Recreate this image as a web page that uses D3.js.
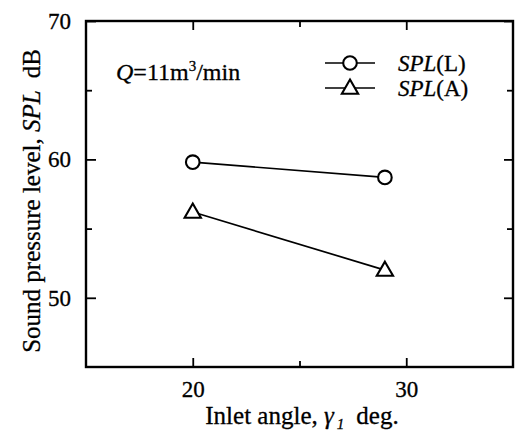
<!DOCTYPE html>
<html>
<head>
<meta charset="utf-8">
<script src="https://cdn.jsdelivr.net/npm/d3@7"></script>
<style>
  html, body { margin: 0; padding: 0; background: #fff; }
  svg { display: block; }
</style>
</head>
<body>
<svg id="chart" width="518" height="437"></svg>
<script>
// Inlet angle (deg.)
const inletAngles = [20, 29];
// Sound pressure level, dB
const splL = [59.8, 58.7];
const splA = [56.2, 52.0];

const xMajorTicks = [20, 30];
const xMinorTicks = [25];
const yMajorTicks = [50, 60, 70];
const yMinorTicks = [55, 65];

const SERIF = "Liberation Serif";
const plot = { left: 86, top: 21, right: 513, bottom: 367 };

const svg = d3.select("#chart");

const x = d3.scaleLinear().domain([15, 35]).range([plot.left, plot.right]);
const y = d3.scaleLinear().domain([45, 70]).range([plot.bottom, plot.top]);

// Bottom axis with labels
svg.append("g").attr("transform", `translate(0,${plot.bottom})`)
  .call(d3.axisBottom(x).tickValues(xMajorTicks).tickSize(-9).tickPadding(14).tickFormat(d3.format("d")));
svg.append("g").attr("transform", `translate(0,${plot.bottom})`)
  .call(d3.axisBottom(x).tickValues(xMinorTicks).tickSize(-6).tickFormat(""));
// Top axis (ticks only)
svg.append("g").attr("transform", `translate(0,${plot.top})`)
  .call(d3.axisTop(x).tickValues(xMajorTicks).tickSize(-9).tickFormat(""));
svg.append("g").attr("transform", `translate(0,${plot.top})`)
  .call(d3.axisTop(x).tickValues(xMinorTicks).tickSize(-6).tickFormat(""));
// Left axis with labels
svg.append("g").attr("transform", `translate(${plot.left},0)`)
  .call(d3.axisLeft(y).tickValues(yMajorTicks).tickSize(-10).tickPadding(15).tickFormat(d3.format("d")));
svg.append("g").attr("transform", `translate(${plot.left},0)`)
  .call(d3.axisLeft(y).tickValues(yMinorTicks).tickSize(-6).tickFormat(""));
// Right axis (ticks only)
svg.append("g").attr("transform", `translate(${plot.right},0)`)
  .call(d3.axisRight(y).tickValues(yMajorTicks).tickSize(-9).tickFormat(""));
svg.append("g").attr("transform", `translate(${plot.right},0)`)
  .call(d3.axisRight(y).tickValues(yMinorTicks).tickSize(-6).tickFormat(""));

svg.selectAll(".domain").remove();
svg.selectAll(".tick line").attr("stroke", "#000").attr("stroke-width", 1.8);
svg.selectAll(".tick text").attr("fill", "#000")
  .attr("font-family", SERIF).attr("font-size", 23)
  .attr("stroke", "#000").attr("stroke-width", 0.3);

// Plot frame
svg.append("rect")
  .attr("x", plot.left).attr("y", plot.top)
  .attr("width", plot.right - plot.left).attr("height", plot.bottom - plot.top)
  .attr("fill", "none").attr("stroke", "#000").attr("stroke-width", 2.4);

// Series
const series = [
  { name: "L", values: splL, marker: "circle" },
  { name: "A", values: splA, marker: "triangle" }
];

const line = d3.line().x(d => x(d[0])).y(d => y(d[1]));
const triSym = d3.symbol().type(d3.symbolTriangle).size(115);

function drawMarker(g, type, cx, cy) {
  if (type === "circle") {
    g.append("circle").attr("cx", cx).attr("cy", cy).attr("r", 6.8)
      .attr("fill", "#fff").attr("stroke", "#000").attr("stroke-width", 2.1);
  } else {
    g.append("path").attr("d", triSym()).attr("transform", `translate(${cx},${cy + 1})`)
      .attr("fill", "#fff").attr("stroke", "#000").attr("stroke-width", 2.1);
  }
}

series.forEach(s => {
  const pts = inletAngles.map((a, i) => [a, s.values[i]]);
  const g = svg.append("g");
  g.append("path").datum(pts).attr("d", line)
    .attr("fill", "none").attr("stroke", "#000").attr("stroke-width", 1.7);
  pts.forEach(p => drawMarker(g, s.marker, x(p[0]), y(p[1])));
});

function serifText(parent, size) {
  return parent.append("text").attr("font-family", SERIF).attr("font-size", size || 23)
    .attr("fill", "#000").attr("stroke", "#000").attr("stroke-width", 0.3);
}

// Legend
const legend = svg.append("g");
const legendRows = [
  { marker: "circle", label: "(L)", y: 63 },
  { marker: "triangle", label: "(A)", y: 88 }
];
legendRows.forEach(r => {
  legend.append("line").attr("x1", 325).attr("x2", 375).attr("y1", r.y).attr("y2", r.y)
    .attr("stroke", "#000").attr("stroke-width", 1.7);
  drawMarker(legend, r.marker, 350, r.y);
  const t = serifText(legend, 23).attr("x", 398).attr("y", r.y + 8);
  t.append("tspan").attr("font-style", "italic").text("SPL");
  t.append("tspan").text(r.label);
});

// Flow-rate annotation
const q = serifText(svg, 24).attr("x", 116).attr("y", 80);
q.append("tspan").attr("font-style", "italic").text("Q");
q.append("tspan").text("=11m");
q.append("tspan").attr("dy", -9).attr("font-size", 15).text("3");
q.append("tspan").attr("dy", 9).text("/min");

// Axis titles
const xt = serifText(svg, 25).attr("x", 302).attr("y", 424).attr("text-anchor", "middle");
xt.append("tspan").text("Inlet angle, ");
xt.append("tspan").attr("font-style", "italic").text("γ");
xt.append("tspan").attr("font-style", "italic").attr("dx", 3).attr("dy", 5).attr("font-size", 15).text("1");
xt.append("tspan").attr("dx", 12).attr("dy", -5).text("deg.");

const yt = serifText(svg, 25)
  .attr("transform", "translate(40,201) rotate(-90)")
  .attr("text-anchor", "middle");
yt.append("tspan").text("Sound pressure level, ");
yt.append("tspan").attr("font-style", "italic").text("SPL");
yt.append("tspan").attr("dx", 12).text("dB");
</script>
</body>
</html>
